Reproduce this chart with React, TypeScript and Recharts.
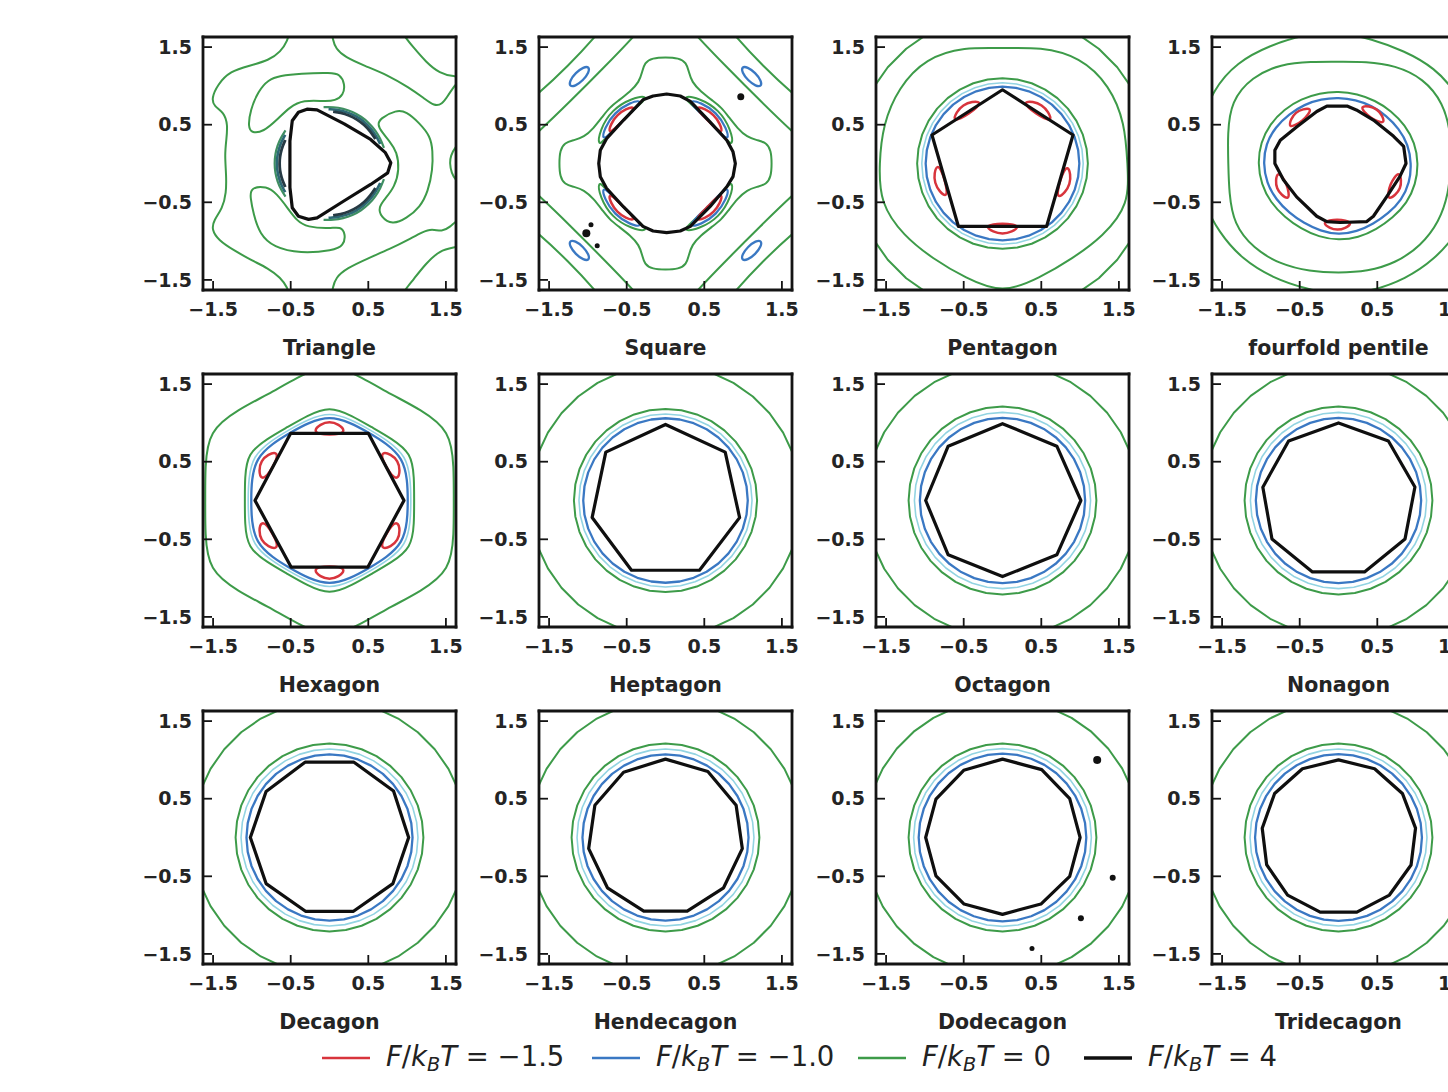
import React from 'react';
import { ComposedChart, Line, Scatter, XAxis, YAxis } from 'recharts';

type Pt = [number, number];

// ---------------- axes / labels ----------------
const TICKS = [-1.5, -0.5, 0.5, 1.5];
const LIMIT = 1.63;
const TITLES = [
  'Triangle', 'Square', 'Pentagon', 'fourfold pentile',
  'Hexagon', 'Heptagon', 'Octagon', 'Nonagon',
  'Decagon', 'Hendecagon', 'Dodecagon', 'Tridecagon',
];
const LEVEL_LABELS = ['\u22121.5', '\u22121.0', '0', '4'];

// sampling angles (degrees) used for ring-like contours
const ANG36 = [0, 10, 20, 30, 40, 50, 60, 70, 80, 90, 100, 110, 120, 130, 140, 150, 160, 170, 180, 190, 200, 210, 220, 230, 240, 250, 260, 270, 280, 290, 300, 310, 320, 330, 340, 350];
const ANG24 = [0, 15, 30, 45, 60, 75, 90, 105, 120, 135, 150, 165, 180, 195, 210, 225, 240, 255, 270, 285, 300, 315, 330, 345];
const ANG20 = [0, 18, 36, 54, 72, 90, 108, 126, 144, 162, 180, 198, 216, 234, 252, 270, 288, 306, 324, 342];

// ---------------- Triangle ----------------
const triBlack: Pt[] = [[-0.29, 0.70], [-0.16, 0.69], [0.19, 0.51], [0.53, 0.31], [0.72, 0.14], [0.79, 0.01], [0.75, -0.12], [0.53, -0.27], [0.19, -0.48], [-0.16, -0.70], [-0.27, -0.72], [-0.40, -0.68], [-0.48, -0.57], [-0.51, -0.31], [-0.51, 0.29], [-0.48, 0.55], [-0.40, 0.66]];
const triBeanUpper: Pt[] = [[-0.64, 1.13], [-0.38, 1.16], [0.03, 1.17], [0.13, 1.15], [0.20, 1.03], [0.18, 0.88], [0.07, 0.81], [-0.05, 0.80], [-0.34, 0.82], [-0.51, 0.73], [-0.68, 0.56], [-0.85, 0.41], [-1.00, 0.39], [-1.05, 0.47], [-1.02, 0.69], [-0.92, 0.93], [-0.79, 1.08]];
const triBeanLower: Pt[] = [[-1.02, -0.31], [-0.81, -0.29], [-0.68, -0.39], [-0.55, -0.56], [-0.42, -0.74], [-0.29, -0.82], [0.01, -0.84], [0.14, -0.81], [0.21, -0.91], [0.18, -1.06], [0.05, -1.12], [-0.38, -1.16], [-0.72, -1.08], [-0.90, -0.91], [-0.98, -0.65], [-1.02, -0.44]];
const triBeanRight: Pt[] = [[0.65, 0.58], [0.86, 0.69], [0.99, 0.67], [1.16, 0.52], [1.30, 0.35], [1.33, 0.17], [1.33, -0.08], [1.27, -0.36], [1.17, -0.56], [0.99, -0.71], [0.81, -0.79], [0.66, -0.69], [0.63, -0.56], [0.72, -0.45], [0.84, -0.30], [0.90, -0.08], [0.87, 0.15], [0.78, 0.28], [0.67, 0.41], [0.62, 0.50]];
const triOuterLeft: Pt[] = [[-0.51, 1.72], [-0.54, 1.58], [-0.63, 1.44], [-0.78, 1.33], [-1.03, 1.26], [-1.28, 1.19], [-1.44, 1.02], [-1.52, 0.84], [-1.49, 0.74], [-1.36, 0.66], [-1.31, 0.50], [-1.33, 0.30], [-1.35, 0.11], [-1.33, -0.15], [-1.33, -0.38], [-1.38, -0.58], [-1.49, -0.73], [-1.52, -0.85], [-1.43, -0.99], [-1.23, -1.12], [-1.00, -1.25], [-0.79, -1.35], [-0.63, -1.47], [-0.54, -1.60], [-0.51, -1.72]];
const triOuterUR: Pt[] = [[0.03, 1.72], [0.04, 1.60], [0.08, 1.48], [0.20, 1.37], [0.45, 1.26], [0.75, 1.14], [1.02, 0.98], [1.22, 0.84], [1.35, 0.74], [1.45, 0.76], [1.53, 0.88], [1.62, 1.02], [1.72, 1.10]];
const triOuterLR: Pt[] = [[0.03, -1.72], [0.04, -1.60], [0.08, -1.47], [0.22, -1.35], [0.50, -1.22], [0.78, -1.10], [1.02, -0.98], [1.20, -0.88], [1.32, -0.84], [1.45, -0.88], [1.55, -0.82], [1.63, -0.74], [1.72, -0.70]];
const triCornerUR: Pt[] = [[0.92, 1.72], [0.98, 1.62], [1.07, 1.51], [1.24, 1.31], [1.42, 1.16], [1.61, 1.12], [1.72, 1.12]];
const triCornerLR: Pt[] = [[0.92, -1.72], [0.98, -1.62], [1.07, -1.51], [1.24, -1.29], [1.42, -1.12], [1.61, -1.08], [1.72, -1.06]];
const triRightEdge: Pt[] = [[1.72, 0.32], [1.62, 0.21], [1.56, 0.10], [1.55, 0.0], [1.57, -0.12], [1.63, -0.22], [1.72, -0.30]];
// crowded contours hugging the triangle (angles in degrees)
const triArcOuterTR = [16, 26, 36, 46, 56, 66, 76, 86, 96];
const triArcMidTR = [21, 31, 41, 51, 61, 71, 81, 91];
const triArcInTR = [28, 38, 48, 58, 68, 78, 86];
const triArcOuterL = [143, 152, 161, 170, 180, 190, 199, 208, 217];
const triArcMidL = [147, 155, 163, 172, 180, 188, 197, 205, 213];
const triArcInL = [152, 160, 168, 176, 184, 192, 200, 208];
const triArcOuterBR = [264, 274, 284, 294, 304, 314, 324, 334, 344];
const triArcMidBR = [269, 279, 289, 299, 309, 319, 329, 339];
const triArcInBR = [274, 282, 292, 302, 312, 322, 332];

// ---------------- Square ----------------
const sqBlack: Pt[] = [[0.015, 0.895], [0.19, 0.87], [0.32, 0.80], [0.57, 0.54], [0.79, 0.30], [0.87, 0.15], [0.90, 0.0], [0.87, -0.17], [0.79, -0.30], [0.57, -0.56], [0.32, -0.81], [0.19, -0.87], [0.015, -0.89], [-0.16, -0.87], [-0.29, -0.81], [-0.54, -0.56], [-0.76, -0.32], [-0.84, -0.17], [-0.86, 0.0], [-0.84, 0.17], [-0.76, 0.32], [-0.54, 0.56], [-0.29, 0.82], [-0.16, 0.87]];
const sqCross: Pt[] = [
  [1.37, 0.00], [1.36, 0.17], [1.30, 0.27], [1.18, 0.30], [1.05, 0.34], [0.93, 0.45], [0.80, 0.62], [0.72, 0.72], [0.62, 0.80], [0.45, 0.93], [0.34, 1.05], [0.30, 1.18], [0.27, 1.30], [0.17, 1.36],
  [0.00, 1.37], [-0.17, 1.36], [-0.27, 1.30], [-0.30, 1.18], [-0.34, 1.05], [-0.45, 0.93], [-0.62, 0.80], [-0.72, 0.72], [-0.80, 0.62], [-0.93, 0.45], [-1.05, 0.34], [-1.18, 0.30], [-1.30, 0.27], [-1.36, 0.17],
  [-1.37, 0.00], [-1.36, -0.17], [-1.30, -0.27], [-1.18, -0.30], [-1.05, -0.34], [-0.93, -0.45], [-0.80, -0.62], [-0.72, -0.72], [-0.62, -0.80], [-0.45, -0.93], [-0.34, -1.05], [-0.30, -1.18], [-0.27, -1.30], [-0.17, -1.36],
  [0.00, -1.37], [0.17, -1.36], [0.27, -1.30], [0.30, -1.18], [0.34, -1.05], [0.45, -0.93], [0.62, -0.80], [0.72, -0.72], [0.80, -0.62], [0.93, -0.45], [1.05, -0.34], [1.18, -0.30], [1.30, -0.27], [1.36, -0.17],
];
const sqBandInner: Pt[] = [[2.1, 0], [1.62, 0.42], [1.23, 0.80], [0.80, 1.23], [0.42, 1.62], [0, 2.1], [-0.42, 1.62], [-0.80, 1.23], [-1.23, 0.80], [-1.62, 0.42], [-2.1, 0], [-1.62, -0.42], [-1.23, -0.80], [-0.80, -1.23], [-0.42, -1.62], [0, -2.1], [0.42, -1.62], [0.80, -1.23], [1.23, -0.80], [1.62, -0.42]];
const sqBandOuter: Pt[] = [[2.8, 0], [1.65, 0.87], [1.26, 1.26], [0.87, 1.65], [0, 2.8], [-0.87, 1.65], [-1.26, 1.26], [-1.65, 0.87], [-2.8, 0], [-1.65, -0.87], [-1.26, -1.26], [-0.87, -1.65], [0, -2.8], [0.87, -1.65], [1.26, -1.26], [1.65, -0.87]];
const sqEllTR: Pt[] = [[1.237, 0.993], [1.235, 1.065], [1.159, 1.169], [1.055, 1.245], [0.983, 1.247], [0.985, 1.175], [1.061, 1.071], [1.165, 0.995]];
const sqEllTL: Pt[] = [[-0.983, 1.247], [-1.055, 1.245], [-1.159, 1.169], [-1.235, 1.065], [-1.237, 0.993], [-1.165, 0.995], [-1.061, 1.071], [-0.985, 1.175]];
const sqEllBL: Pt[] = [[-1.237, -0.993], [-1.235, -1.065], [-1.159, -1.169], [-1.055, -1.245], [-0.983, -1.247], [-0.985, -1.175], [-1.061, -1.071], [-1.165, -0.995]];
const sqEllBR: Pt[] = [[0.983, -1.247], [1.055, -1.245], [1.159, -1.169], [1.235, -1.065], [1.237, -0.993], [1.165, -0.995], [1.061, -1.071], [0.985, -1.175]];
const sqLobeAt = [45, 135, 225, 315];
const sqRedOff = [-17, -9, 0, 9, 17, 11, 0, -11];
const sqRedR = [0.835, 0.87, 0.885, 0.87, 0.835, 0.79, 0.78, 0.79];
const sqBlueOff = [-25, -15, 0, 15, 25, 17, 0, -17];
const sqBlueR = [0.87, 0.91, 0.93, 0.91, 0.87, 0.81, 0.78, 0.81];
const sqGreenOff = [-31, -18, 0, 18, 31, 23, 0, -23];
const sqGreenR = [0.90, 0.95, 0.98, 0.95, 0.90, 0.84, 0.78, 0.84];
const sqDots: Pt[] = [[0.97, 0.86], [-1.02, -0.90], [-0.96, -0.79], [-0.88, -1.06]];
const sqDotSize = [3.5, 4, 2.5, 2.5];

// ---------------- Pentagon ----------------
const pentBlackAng = [90, 22, -55, -125, 158];
const pentBlackR = [0.95, 0.98, 0.99, 0.99, 0.98];
const pentLobeAt = [56, -17, -90, 196, 124];
const pentRedOff = [-15, -8, 0, 8, 15, 9, 0, -9];
const pentRedR = [0.84, 0.89, 0.91, 0.89, 0.84, 0.79, 0.775, 0.79];
const pentOuterR = [1.61, 1.66, 1.71, 1.70, 1.58, 1.48, 1.58, 1.68, 1.66, 1.62, 1.59, 1.66, 1.58, 1.52, 1.55, 1.68, 1.55, 1.52, 1.60, 1.72];

// ---------------- fourfold pentile ----------------
const fpBlack: Pt[] = [[-0.15, 0.74], [0.11, 0.74], [0.23, 0.69], [0.45, 0.56], [0.71, 0.35], [0.84, 0.22], [0.87, 0.0], [0.79, -0.17], [0.62, -0.43], [0.45, -0.68], [0.36, -0.75], [0.02, -0.76], [-0.15, -0.75], [-0.28, -0.68], [-0.54, -0.43], [-0.71, -0.21], [-0.82, 0.0], [-0.82, 0.17], [-0.75, 0.30], [-0.54, 0.47], [-0.28, 0.67]];
const fpLobeAt = [130, 55, -22, -91, 202];
const fpRedOff = [-14, -7, 0, 7, 14, 8, 0, -8];
const fpRedR = [0.79, 0.84, 0.86, 0.84, 0.79, 0.74, 0.72, 0.74];
const fpBlueR = [0.94, 0.93, 0.90, 0.87, 0.86, 0.85, 0.85, 0.86, 0.88, 0.90, 0.94, 0.97, 0.97, 0.96, 0.93, 0.90, 0.89, 0.90, 0.92, 0.91, 0.90, 0.91, 0.94, 0.95];
const fpGreenR = [1.03, 1.02, 0.99, 0.96, 0.94, 0.93, 0.93, 0.94, 0.96, 0.99, 1.02, 1.04, 1.04, 1.03, 1.01, 0.98, 0.97, 0.98, 0.99, 0.99, 0.98, 0.99, 1.02, 1.03];
const fpGreen2R = [1.45, 1.50, 1.56, 1.55, 1.46, 1.36, 1.31, 1.36, 1.48, 1.58, 1.60, 1.48, 1.42, 1.46, 1.56, 1.55, 1.50, 1.44, 1.41, 1.44, 1.48, 1.50, 1.50, 1.47];
const fpOuterR = [1.80, 1.80, 1.78, 1.75, 1.68, 1.66, 1.70, 1.72, 1.76, 1.85, 1.88, 1.84, 1.82, 1.82, 1.78, 1.75, 1.70, 1.67, 1.70, 1.70, 1.72, 1.75, 1.78, 1.80];

// ---------------- Hexagon ----------------
const hexBlackAng = [0, 60, 120, 180, 240, 300];
const hexBlackR = [0.96, 1.0, 1.0, 0.96, 0.99, 0.99];
const hexLobeAt = [30, 90, 150, 210, 270, 330];
const hexRedOff = [-13, -7, 0, 7, 13, 8, 0, -8];
const hexRedR = [0.92, 0.99, 1.02, 0.99, 0.92, 0.86, 0.85, 0.86];
const hexBlueR = [1.01, 1.04, 1.09, 1.04, 1.01, 1.04, 1.09, 1.04, 1.01, 1.04, 1.09, 1.04, 1.01, 1.04, 1.09, 1.04, 1.01, 1.04, 1.09, 1.04, 1.01, 1.04, 1.09, 1.04];
const hexCyanR = [1.05, 1.08, 1.14, 1.08, 1.05, 1.08, 1.14, 1.08, 1.05, 1.08, 1.14, 1.08, 1.05, 1.08, 1.14, 1.08, 1.05, 1.08, 1.14, 1.08, 1.05, 1.08, 1.14, 1.08];
const hexGreenR = [1.09, 1.13, 1.22, 1.13, 1.09, 1.13, 1.22, 1.13, 1.09, 1.13, 1.22, 1.13, 1.09, 1.13, 1.22, 1.13, 1.09, 1.13, 1.22, 1.13, 1.09, 1.13, 1.22, 1.13];
const hexOuterR = [1.60, 1.66, 1.80, 1.66, 1.58, 1.64, 1.78, 1.64, 1.58, 1.66, 1.80, 1.66, 1.60, 1.66, 1.80, 1.66, 1.58, 1.64, 1.78, 1.64, 1.58, 1.66, 1.80, 1.66];

// ---------------- Heptagon ... Tridecagon ----------------
const hepBlackAng = [90, 141, 193, 244, 296, 347, 39];
const hepBlackR = [0.98, 0.99, 0.97, 1.0, 1.0, 0.98, 0.99];
const octBlackAng = [90, 135, 180, 225, 270, 315, 0, 45];
const octBlackR = [0.99, 0.99, 0.99, 0.99, 0.98, 0.99, 1.01, 0.99];
const nonBlackAng = [90, 130, 170, 210, 250, 290, 330, 10, 50];
const nonBlackR = [1.0, 1.0, 0.99, 0.99, 0.98, 0.98, 0.99, 1.0, 1.0];
const decBlackAng = [72, 108, 144, 180, 216, 252, 288, 324, 0, 36];
const decBlackR = [1.02, 1.02, 1.01, 1.02, 1.01, 1.0, 1.0, 1.01, 1.02, 1.02];
const henBlackAng = [90, 122.7, 155.5, 188.2, 220.9, 253.6, 286.4, 319.1, 351.8, 24.5, 57.3];
const henBlackR = [1.01, 1.0, 1.0, 1.0, 0.99, 0.99, 0.99, 0.99, 1.0, 1.0, 1.01];
const dodBlackAng = [90, 120, 150, 180, 210, 240, 270, 300, 330, 0, 30, 60];
const dodBlackR = [1.01, 1.0, 0.99, 0.99, 0.99, 0.99, 0.99, 0.99, 1.0, 1.0, 1.0, 1.01];
const tdBlackAng = [90, 117.7, 145.4, 173.1, 200.8, 228.5, 256.2, 283.8, 311.5, 339.2, 6.9, 34.6, 62.3];
const tdBlackR = [1.0, 1.0, 1.0, 0.99, 0.99, 0.99, 0.99, 0.99, 0.99, 1.0, 1.0, 1.0, 1.0];
// ring radii: [blue, cyan, green, outer green]
const hepRings = [1.06, 1.115, 1.18, 1.75];
const octRings = [1.065, 1.135, 1.21, 1.76];
const nonRings = [1.065, 1.135, 1.21, 1.76];
const decRings = [1.07, 1.14, 1.21, 1.77];
const henRings = [1.07, 1.14, 1.21, 1.77];
const dodRings = [1.08, 1.145, 1.21, 1.78];
const tdRings = [1.075, 1.14, 1.21, 1.77];
const dodDots: Pt[] = [[1.22, 1.0], [1.42, -0.52], [1.01, -1.04], [0.38, -1.43]];
const dodDotSize = [4, 3, 3, 2.5];

// ---------------- styles ----------------
type Lvl = 'g' | 'c' | 'b' | 'r' | 'k' | 'tg' | 'tb' | 'tr';
const STYLE: Record<Lvl, { stroke: string; w: number }> = {
  g: { stroke: '#3d9b49', w: 2 },
  c: { stroke: '#93d4e2', w: 1.6 },
  b: { stroke: '#3a78c3', w: 2.3 },
  r: { stroke: '#d8343c', w: 2.5 },
  k: { stroke: '#0f0f0f', w: 3.2 },
  tg: { stroke: '#3f8f62', w: 2.2 },
  tb: { stroke: '#2c6874', w: 2.6 },
  tr: { stroke: '#263a44', w: 2.8 },
};
const LEGEND_COLORS = ['#d8343c', '#3a78c3', '#3d9b49', '#0f0f0f'];

// ---------------- geometry helpers ----------------
const rad = (d: number) => (d * Math.PI) / 180;
const polar = (ang: number[], r: number[]): Pt[] => ang.map((a, i) => [r[i] * Math.cos(rad(a)), r[i] * Math.sin(rad(a))]);
const circ = (r: number, ang: number[] = ANG36): Pt[] => ang.map((a) => [r * Math.cos(rad(a)), r * Math.sin(rad(a))]);
const lobe = (at: number, off: number[], r: number[]): Pt[] => polar(off.map((o) => at + o), r);

type Contour = { pts: Pt[]; lvl: Lvl; closed: boolean; smooth: boolean };
const C = (pts: Pt[], lvl: Lvl, closed = true, smooth = true): Contour => ({ pts, lvl, closed, smooth });

const ringPanel = (ang: number[], r: number[], rings: number[]): Contour[] => [
  C(circ(rings[3]), 'g', true, false),
  C(circ(rings[2]), 'g', true, false),
  C(circ(rings[1]), 'c', true, false),
  C(circ(rings[0]), 'b', true, false),
  C(polar(ang, r), 'k', true, false),
];

type Panel = { contours: Contour[]; dots: Pt[]; dotSize: number[] };

const PANELS: Panel[] = [
  {
    contours: [
      C(triOuterLeft, 'g', false), C(triOuterUR, 'g', false), C(triOuterLR, 'g', false),
      C(triCornerUR, 'g', false), C(triCornerLR, 'g', false), C(triRightEdge, 'g', false),
      C(triBeanUpper, 'g'), C(triBeanLower, 'g'), C(triBeanRight, 'g'),
      C(circ(0.73, triArcOuterTR), 'tg', false), C(circ(0.70, triArcMidTR), 'tb', false), C(circ(0.67, triArcInTR), 'tr', false),
      C(circ(0.71, triArcOuterL), 'tg', false), C(circ(0.68, triArcMidL), 'tb', false), C(circ(0.645, triArcInL), 'tr', false),
      C(circ(0.73, triArcOuterBR), 'tg', false), C(circ(0.70, triArcMidBR), 'tb', false), C(circ(0.67, triArcInBR), 'tr', false),
      C(triBlack, 'k', true, false),
    ],
    dots: [], dotSize: [],
  },
  {
    contours: [
      C(sqBandOuter, 'g'), C(sqBandInner, 'g'), C(sqCross, 'g'),
      C(sqEllTR, 'b'), C(sqEllTL, 'b'), C(sqEllBL, 'b'), C(sqEllBR, 'b'),
      ...sqLobeAt.map((a) => C(lobe(a, sqGreenOff, sqGreenR), 'g')),
      ...sqLobeAt.map((a) => C(lobe(a, sqBlueOff, sqBlueR), 'b')),
      ...sqLobeAt.map((a) => C(lobe(a, sqRedOff, sqRedR), 'r')),
      C(sqBlack, 'k', true, false),
    ],
    dots: sqDots, dotSize: sqDotSize,
  },
  {
    contours: [
      C(circ(1.93), 'g', true, false),
      C(polar(ANG20, pentOuterR), 'g'),
      C(circ(1.10), 'g', true, false),
      C(circ(1.04), 'c', true, false),
      C(circ(0.99), 'b', true, false),
      ...pentLobeAt.map((a) => C(lobe(a, pentRedOff, pentRedR), 'r')),
      C(polar(pentBlackAng, pentBlackR), 'k', true, false),
    ],
    dots: [], dotSize: [],
  },
  {
    contours: [
      C(polar(ANG24, fpOuterR), 'g'),
      C(polar(ANG24, fpGreen2R), 'g'),
      C(polar(ANG24, fpGreenR), 'g'),
      C(polar(ANG24, fpBlueR), 'b'),
      ...fpLobeAt.map((a) => C(lobe(a, fpRedOff, fpRedR), 'r')),
      C(fpBlack, 'k', true, false),
    ],
    dots: [], dotSize: [],
  },
  {
    contours: [
      C(polar(ANG24, hexOuterR), 'g'),
      C(polar(ANG24, hexGreenR), 'g'),
      C(polar(ANG24, hexCyanR), 'c'),
      C(polar(ANG24, hexBlueR), 'b'),
      ...hexLobeAt.map((a) => C(lobe(a, hexRedOff, hexRedR), 'r')),
      C(polar(hexBlackAng, hexBlackR), 'k', true, false),
    ],
    dots: [], dotSize: [],
  },
  { contours: ringPanel(hepBlackAng, hepBlackR, hepRings), dots: [], dotSize: [] },
  { contours: ringPanel(octBlackAng, octBlackR, octRings), dots: [], dotSize: [] },
  { contours: ringPanel(nonBlackAng, nonBlackR, nonRings), dots: [], dotSize: [] },
  { contours: ringPanel(decBlackAng, decBlackR, decRings), dots: [], dotSize: [] },
  { contours: ringPanel(henBlackAng, henBlackR, henRings), dots: [], dotSize: [] },
  { contours: ringPanel(dodBlackAng, dodBlackR, dodRings), dots: dodDots, dotSize: dodDotSize },
  { contours: ringPanel(tdBlackAng, tdBlackR, tdRings), dots: [], dotSize: [] },
];

// ---------------- layout ----------------
const PLOT = 253;
const COL_X = [203, 539, 876, 1212];
const ROW_Y = [37, 374, 711];
const AX_L = 80;
const AX_B = 80;
const AX_T = 10;
const AX_R = 10;
const CW = AX_L + PLOT + AX_R;
const CH = AX_T + PLOT + AX_B;

const FONT = '"DejaVu Sans", "Noto Sans", sans-serif';
const axisLineStyle = { stroke: '#141414', strokeWidth: 2.8, strokeLinecap: 'square' as const };
const tickLineStyle = { stroke: '#141414', strokeWidth: 1.8 };
const tickFont = { fill: '#242424', fontSize: 19, fontWeight: 700, fontFamily: FONT };
const fmt = (v: number) => (v < 0 ? '\u2212' : '') + Math.abs(v).toFixed(1);

const curveType = (c: Contour) =>
  c.closed ? (c.smooth ? 'basisClosed' : 'linearClosed') : (c.smooth ? 'basis' : 'linear');

function PanelChart({ idx }: { idx: number }) {
  const p = PANELS[idx];
  const col = idx % 4;
  const row = Math.floor(idx / 4);
  const left = COL_X[col] - AX_L;
  const top = ROW_Y[row] - AX_T;
  const dotData = p.dots.map(([x, y], i) => ({ x, y, i }));
  return (
    <>
      <div style={{ position: 'absolute', left, top, width: CW, height: CH }}>
        <ComposedChart width={CW} height={CH} margin={{ top: 0, right: 0, bottom: 0, left: 0 }}>
          {p.contours.map((c, i) => (
            <Line
              key={i}
              data={c.pts.map(([x, y]) => ({ x, y }))}
              dataKey="y"
              type={curveType(c) as any}
              stroke={STYLE[c.lvl].stroke}
              strokeWidth={STYLE[c.lvl].w}
              strokeLinejoin="round"
              dot={false}
              activeDot={false}
              isAnimationActive={false}
            />
          ))}
          {dotData.length > 0 && (
            <Scatter
              data={dotData}
              dataKey="y"
              isAnimationActive={false}
              shape={(props: any) => (
                <circle cx={props.cx} cy={props.cy} r={p.dotSize[props.payload?.i ?? 0] ?? 3} fill="#111" />
              )}
            />
          )}
          <XAxis
            dataKey="x" type="number" domain={[-LIMIT, LIMIT]} ticks={TICKS} allowDataOverflow interval={0}
            height={AX_B} axisLine={axisLineStyle} tickLine={tickLineStyle} tickSize={-9} tickMargin={22}
            tick={tickFont} tickFormatter={fmt}
          />
          <XAxis
            xAxisId="t" orientation="top" dataKey="x" type="number" domain={[-LIMIT, LIMIT]} ticks={TICKS}
            allowDataOverflow interval={0} height={AX_T} axisLine={axisLineStyle} tickLine={tickLineStyle}
            tickSize={-9} tick={false}
          />
          <YAxis
            dataKey="y" type="number" domain={[-LIMIT, LIMIT]} ticks={TICKS} allowDataOverflow interval={0}
            width={AX_L} axisLine={axisLineStyle} tickLine={tickLineStyle} tickSize={-9} tickMargin={20}
            tick={tickFont} tickFormatter={fmt}
          />
          <YAxis
            yAxisId="r" orientation="right" dataKey="y" type="number" domain={[-LIMIT, LIMIT]} ticks={TICKS}
            allowDataOverflow interval={0} width={AX_R} axisLine={axisLineStyle} tickLine={tickLineStyle}
            tickSize={-9} tick={false}
          />
        </ComposedChart>
      </div>
      <div
        style={{
          position: 'absolute', left: COL_X[col] - 60, width: PLOT + 120, top: ROW_Y[row] + PLOT + 46,
          textAlign: 'center', fontFamily: FONT, fontWeight: 700, fontSize: 20.5, lineHeight: '24px', color: '#242424',
          whiteSpace: 'nowrap',
        }}
      >
        {TITLES[idx]}
      </div>
    </>
  );
}

const LEGEND_TEXT_X = [386, 656, 922, 1148];

function Legend() {
  return (
    <>
      {LEVEL_LABELS.map((lab, i) => (
        <div
          key={i}
          style={{
            position: 'absolute', left: LEGEND_TEXT_X[i] - 65, top: 1041, height: 34, display: 'flex',
            alignItems: 'center', fontFamily: FONT, fontSize: 27.5, color: '#222', whiteSpace: 'nowrap',
          }}
        >
          <svg width={50} height={10} style={{ marginRight: 15 }}>
            <line x1={1} y1={5} x2={49} y2={5} stroke={LEGEND_COLORS[i]} strokeWidth={i === 3 ? 3.5 : 2.5} />
          </svg>
          <span>
            <i>F</i>/<i>k</i>
            <i style={{ fontSize: '0.7em', verticalAlign: '-0.25em' }}>B</i>
            <i>T</i>
            {' = '}
            {lab}
          </span>
        </div>
      ))}
    </>
  );
}

export default function App() {
  return (
    <div style={{ position: 'relative', width: 1448, height: 1092, overflow: 'hidden', background: '#fff' }}>
      <style>{'body{margin:0;overflow:hidden;background:#fff}'}</style>
      {PANELS.map((_, i) => (
        <PanelChart key={i} idx={i} />
      ))}
      <Legend />
    </div>
  );
}
